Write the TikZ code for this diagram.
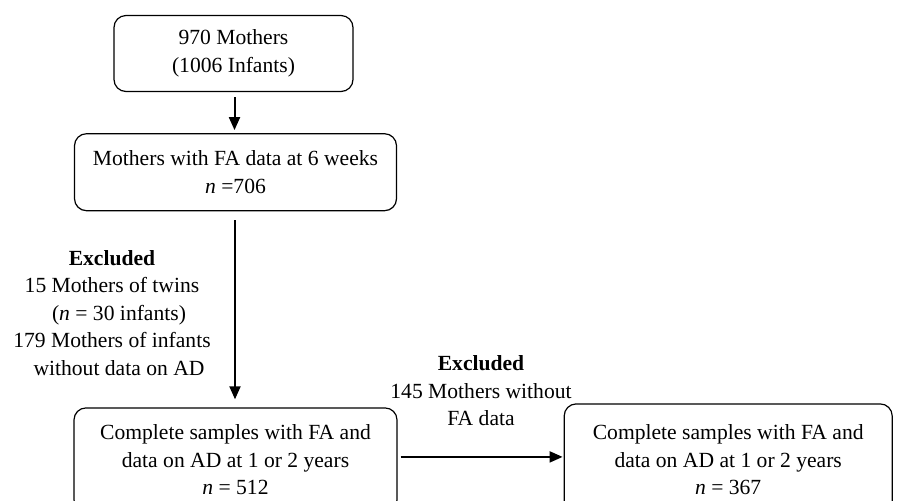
\documentclass[tikz,border=0pt]{standalone}
\usepackage{fontspec}
\setmainfont{Liberation Serif}
\usetikzlibrary{arrows.meta,positioning}

\begin{document}
\begin{tikzpicture}[
  box/.style={rectangle, draw, rounded corners=6pt, line width=0.6pt, align=center,
    font=\fontsize{10.8}{13.75}\selectfont},
  lbl/.style={align=center, inner sep=0pt, font=\fontsize{10.8}{13.75}\selectfont},
  arr/.style={draw, line width=1pt, -{Triangle[length=6.5pt,width=5.5pt]}}
]
  \clip (0,0) rectangle (449pt,-250pt);
  \node[box, minimum width=119.5pt, minimum height=38pt] (mothers) at (116.75pt,-26.75pt)
    {970 Mothers\\(1006 Infants)};
  \node[box, minimum width=161pt, minimum height=38.5pt, below=20.5pt of mothers, xshift=1pt] (fadata)
    {Mothers with FA data at 6 weeks\\\textit{n} =706};
  \node[box, minimum width=161.5pt, minimum height=52pt, below=98pt of fadata] (complete)
    {Complete samples with FA and\\data on AD at 1 or 2 years\\\textit{n} = 512};
  \node[box, minimum width=164pt, minimum height=56pt, right=83pt of complete] (final)
    {Complete samples with FA and\\data on AD at 1 or 2 years\\\textit{n} = 367};

  \node[lbl] (excl1) at (56pt,-156.5pt)
    {\textbf{Excluded}\\15 Mothers of twins\\\hspace*{7pt}(\textit{n} = 30 infants)\\179 Mothers of infants\\\hspace*{7pt}without data on AD};
  \node[lbl] (excl2) at (240.5pt,-195.5pt)
    {\textbf{Excluded}\\145 Mothers without\\FA data};

  \draw[arr, shorten <=2.5pt, shorten >=1.5pt] (mothers.south -| 117.25pt,0) -- (fadata.north -| 117.25pt,0);
  \draw[arr, shorten <=4.5pt, shorten >=4pt] (fadata.south -| 117.5pt,0) -- (complete.north -| 117.5pt,0);
  \draw[arr, shorten <=1.5pt, shorten >=0.5pt] ([yshift=1.5pt]complete.east) -- ([yshift=1.5pt]final.west);
\end{tikzpicture}
\end{document}
